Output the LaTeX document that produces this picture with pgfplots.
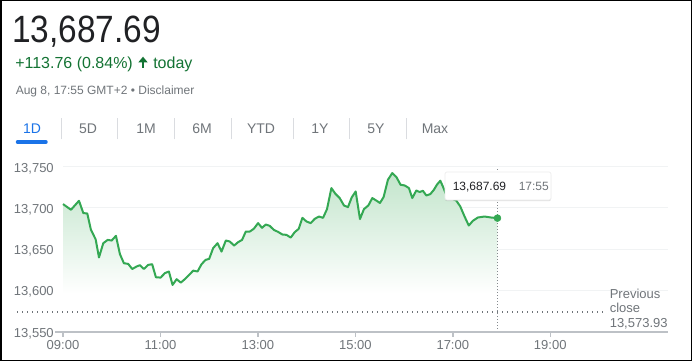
\documentclass[border=0pt]{standalone}
\usepackage{fontspec}
\setmainfont{Liberation Sans}
\newfontfamily\bigfont[FakeStretch=0.88]{Liberation Sans}
\usepackage{pgfplots}
\usepackage{pgfplotstable}
\pgfplotsset{compat=1.18}
\usetikzlibrary{shadows}
\definecolor{txtdark}{HTML}{202124}
\definecolor{txtgray}{HTML}{70757A}
\definecolor{upgreen}{HTML}{137333}
\definecolor{linegreen}{HTML}{34A853}
\definecolor{gblue}{HTML}{1A73E8}
\definecolor{sepgray}{HTML}{DADCE0}
\definecolor{gridgray}{HTML}{F1F3F4}
\definecolor{axisgray}{HTML}{BDC1C6}
% t = minutes after 09:00, v = index level
\pgfplotstableread{
t v
0 13704.7
9.8 13697.8
19.7 13708.7
25 13693.8
29.9 13693.3
34.4 13673.5
40.2 13662
44.3 13640
49.6 13657.3
55 13661.3
59.9 13660.5
65.2 13666.2
70.1 13644
75 13633
80.3 13632.2
85.2 13626
90.6 13629
94.7 13630.6
99.6 13626
104.9 13631
109.8 13631.8
114.4 13616
120.2 13615.6
125.5 13621
130.4 13623
134.9 13606.7
139.9 13613.6
145.1 13609.5
150.4 13614
155.3 13618.8
160.3 13624
165.7 13623
170.6 13631.8
175.5 13637
180 13638.3
184.9 13651.3
190.3 13657.3
195.2 13647.1
200.5 13660.5
205.4 13659.3
210.7 13654.4
215.6 13658.5
220.5 13661.3
225.1 13671.4
230 13671.4
234.9 13674.7
240.2 13681.6
245.1 13675.9
249.7 13679.9
254.6 13678.3
259.5 13673.5
264.8 13671
270.2 13667.8
275.1 13667.4
280.4 13664.1
285.4 13670.7
290.3 13674.7
294.8 13688
299.8 13683.6
305 13681.6
310 13686.8
315.2 13689.6
320.2 13688
325.1 13698.6
330.5 13724.1
335.4 13717.2
340.7 13712
346 13703
350.9 13701
355.5 13712.7
360.4 13720
365.7 13686.5
370.6 13698.6
376 13703
380.9 13712
386.2 13708.7
390.3 13706
394.8 13713.2
400.1 13734.2
405.5 13742.3
410.5 13737.5
415.7 13728.1
420.7 13727.3
426 13724.1
430.1 13712
435.1 13721.2
439.1 13719.3
443.2 13720.8
447.4 13715.1
452.3 13716.8
456.7 13722
460.4 13728.1
464.6 13733
467.8 13726
472.3 13715
479.7 13711
484.2 13709
489.1 13702
494.5 13689.6
499.7 13678.7
504.7 13684.4
510.8 13688.4
519 13689.6
527.3 13688.4
535 13687.69
}\pricedata

\begin{document}
\begin{tikzpicture}[x=0.75pt,y=0.75pt]
\path[use as bounding box] (0,0) rectangle (692,361);
\fill[white] (0,0) rectangle (692,361);

% header
\node[anchor=base west, inner sep=0pt, text=txtdark, font=\bigfont\fontsize{28.5}{30}\selectfont] at (12,318.3) {13,687.69};
\node[anchor=base west, inner sep=0pt, text=upgreen, font=\fontsize{12}{14}\selectfont] at (15,292) {+113.76 (0.84\%)};
\fill[upgreen] (138.3,298.6) -- (143,304.3) -- (147.7,298.6) -- cycle;
\fill[upgreen] (141.8,292.7) rectangle (144.2,299.5);
\node[anchor=base west, inner sep=0pt, text=upgreen, font=\fontsize{12}{14}\selectfont] at (153,292) {today};
\node[anchor=base west, inner sep=0pt, text=txtgray, font=\fontsize{9}{11}\selectfont] at (15.5,266) {Aug 8, 17:55 GMT+2 • Disclaimer};

% tabs
\foreach \xx/\lab in {88/5D,146/1M,202/6M,261/YTD,320/1Y,376/5Y,435/Max}
  \node[anchor=base, inner sep=0pt, text=txtgray, font=\fontsize{10.5}{12}\selectfont] at (\xx,227) {\lab};
\node[anchor=base, inner sep=0pt, text=gblue, font=\fontsize{10.5}{12}\selectfont] at (32,227) {1D};
\foreach \xx in {61,117,174,231,293,349.5,406}
  \draw[sepgray, line width=0.75pt] (\xx,221.7) -- (\xx,242.7);
\draw[gblue, line width=2.6pt, line cap=round] (17.5,219) -- (46,219);

\begin{axis}[
  at={(47.25pt,21.975pt)}, anchor=south west,
  scale only axis, width=453.75pt, height=123.75pt,
  xmin=0, xmax=745, ymin=13550, ymax=13750,
  clip=false,
  scaled y ticks=false, scaled x ticks=false,
  axis line style={draw=none},
  xtick={0,120,240,360,480,600},
  xticklabels={09:00,11:00,13:00,15:00,17:00,19:00},
  ytick={13550,13600,13650,13700,13750},
  yticklabels={{13,550},{13,600},{13,650},{13,700},{13,750}},
  xtick pos=bottom, ytick pos=left,
  tick align=outside,
  major tick length=3.75pt,
  xtick style={draw=axisgray, line width=1.125pt},
  ytick style={draw=none},
  ymajorgrids, grid style={draw=gridgray, line width=0.75pt},
  ticklabel style={font=\fontsize{9.75}{11}\selectfont, text=txtgray, inner sep=0pt},
  yticklabel style={anchor=base east, yshift=-4pt, xshift=-3pt},
  xticklabel style={anchor=base, yshift=-9.25pt},
]
\addplot[draw=none, top color=linegreen!30!white, bottom color=white, forget plot]
  table[x=t,y=v]{\pricedata} -- (axis cs:535,13596) -- (axis cs:0,13596) -- cycle;
\addplot[txtgray, line width=0.9pt, dash pattern=on 0.9pt off 2.85pt, forget plot] coordinates {(-56.6,13573.93) (665,13573.93)};
\addplot[txtgray!85, line width=0.75pt, dash pattern=on 0.75pt off 1.5pt, forget plot] coordinates {(535,13550) (535,13750)};
\addplot[axisgray, line width=1.5pt, forget plot] coordinates {(-9.85,13550) (745,13550)};
\addplot[linegreen, line width=1.5pt, line join=round, forget plot] table[x=t,y=v]{\pricedata};
\addplot[only marks, mark=*, mark size=2.6pt, linegreen, forget plot] coordinates {(535,13687.69)};
\end{axis}

% tooltip
\path[fill=white, draw=black!7, line width=0.5pt, rounded corners=1.5pt,
  drop shadow={shadow xshift=0pt, shadow yshift=-0.9pt, opacity=0.25, fill=black!50}]
  (445,161) rectangle (551,189);
\node[anchor=base west, inner sep=0pt, text=txtdark, font=\fontsize{9}{11}\selectfont] at (452.5,171) {13,687.69};
\node[anchor=base west, inner sep=0pt, text=txtgray, font=\fontsize{9}{11}\selectfont] at (518.5,171) {17:55};

% previous close
\node[anchor=base west, inner sep=0pt, text=txtgray, font=\fontsize{9.75}{11}\selectfont] at (609.5,63) {Previous};
\node[anchor=base west, inner sep=0pt, text=txtgray, font=\fontsize{9.75}{11}\selectfont] at (609.5,48.3) {close};
\node[anchor=base west, inner sep=0pt, text=txtgray, font=\fontsize{9.75}{11}\selectfont] at (609.5,33.7) {13,573.93};

% frame
\draw[black, line width=1.125pt] (0.75,0.75) rectangle (691.25,360.25);
\end{tikzpicture}
\end{document}
